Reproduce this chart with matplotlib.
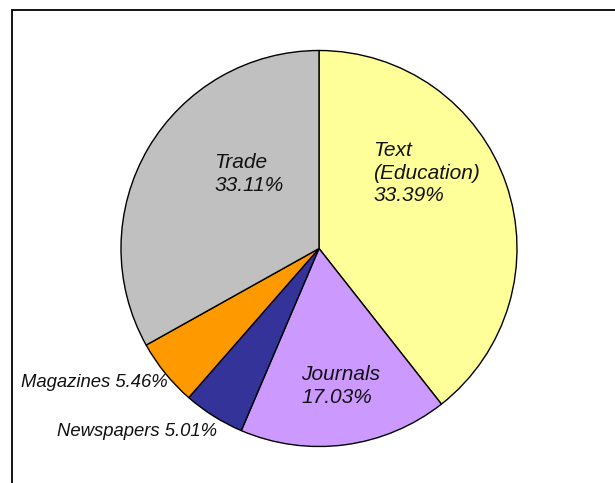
import matplotlib
matplotlib.use("Agg")
import matplotlib.pyplot as plt
from matplotlib.patches import Rectangle

# --- data (slice sizes from the drawn angles,
#     label text as printed on the chart) ---
categories = ["Text\n(Education)", "Journals", "Newspapers", "Magazines", "Trade"]
shares = [39.39, 17.03, 5.01, 5.46, 33.11]
printed_pct = ["33.39%", "17.03%", "5.01%", "5.46%", "33.11%"]
colors = ["#FFFF99", "#CC99FF", "#333399", "#FF9900", "#C0C0C0"]

plt.rcParams["font.family"] = ["Liberation Sans", "DejaVu Sans"]

W, H = 615, 483
fig = plt.figure(figsize=(W / 100, H / 100), dpi=100)

# pie center / radius in pixels
cx, cy, r = 319, 248.5, 198
lim = 1.05
half = r * lim
ax = fig.add_axes([(cx - half) / W, (H - cy - half) / H, 2 * half / W, 2 * half / H])

ax.pie(shares, colors=colors, startangle=90, counterclock=False,
       wedgeprops=dict(edgecolor="black", linewidth=1.0))
ax.set_xlim(-lim, lim)
ax.set_ylim(-lim, lim)
ax.set_aspect("equal")
ax.axis("off")

# --- labels (inside for big slices, outside for the small ones) ---
big = dict(fontsize=15, style="italic", color="#111111", linespacing=1.25)
small = dict(fontsize=13.3, style="italic", color="#111111")

ax.text(0.275, 0.381, f"{categories[0]}\n{printed_pct[0]}", ha="left", va="center", **big)
ax.text(-0.53, 0.376, f"{categories[4]}\n{printed_pct[4]}", ha="left", va="center", **big)
ax.text(-0.09, -0.694, f"{categories[1]}\n{printed_pct[1]}", ha="left", va="center", **big)
ax.text(-0.763, -0.679, f"{categories[3]} {printed_pct[3]}", ha="right", va="center", **small)
ax.text(-0.515, -0.922, f"{categories[2]} {printed_pct[2]}", ha="right", va="center", **small)

# --- frame around the chart (runs off the right and bottom edges) ---
fig.patches.append(Rectangle((11.5 / W, -0.2), 1.2, 1.2 - 9.5 / H,
                             transform=fig.transFigure, fill=False,
                             edgecolor="black", linewidth=1.3))

fig.savefig("out.png", dpi=100)
